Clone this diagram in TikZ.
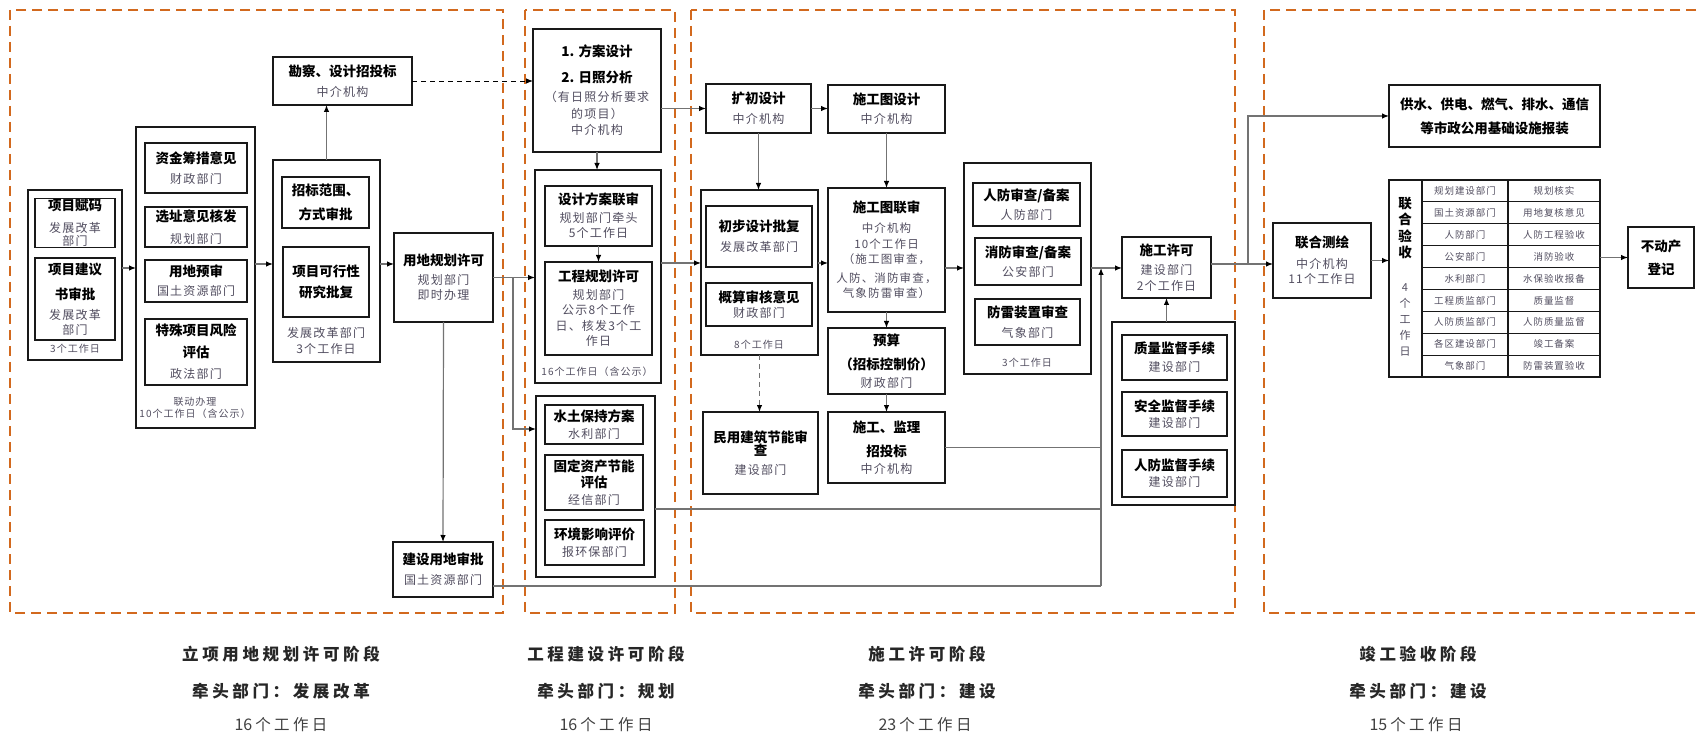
\documentclass[tikz,border=0pt]{standalone}
\usepackage{fontspec}
\setmainfont{Noto Sans CJK SC}
\newfontfamily\subfont[LetterSpace=10]{Noto Sans CJK SC}
\newfontfamily\stfont[LetterSpace=22]{Noto Sans CJK SC}
\usetikzlibrary{arrows.meta}
\definecolor{orng}{RGB}{210,105,30}
\definecolor{subc}{RGB}{82,78,96}
\definecolor{lnc}{RGB}{115,115,115}
\newcommand\tl[1]{{\normalfont\bfseries\color{black}\fontsize{13.5}{16}\selectfont #1}}
\newcommand\dg[1]{{\normalfont\fontsize{16}{20}\selectfont #1\hspace{3pt}}}
\newcommand\bx[7][]{\node[box,minimum width={#5-#3},minimum height={#6-#4},#1] (#2) at ({(#3+#5)/2},{(#4+#6)/2}) {#7};}
\tikzset{
  box/.style={draw=black!90, line width=1.1pt, inner sep=1pt, outer sep=0pt, align=center, text=subc, font=\subfont\fontsize{12}{17}\selectfont},
  note/.style={font=\subfont\fontsize{10}{12}\selectfont, text=subc, inner sep=0pt, align=center},
  stage/.style={draw=orng, line width=2.4pt, dash pattern=on 10pt off 6pt},
  conn/.style={draw=lnc, line width=1.2pt},
  arr/.style={conn, -{Latex[length=7pt,width=5.5pt,color=black]}},
  stlab/.style={font=\stfont\bfseries\fontsize{16.5}{20}\selectfont, inner sep=0pt, text=black!85},
  stday/.style={font=\stfont\fontsize{15.5}{20}\selectfont, inner sep=0pt, text=black!75},
  cell/.style={font=\subfont\fontsize{9.5}{11}\selectfont, text=subc, inner sep=0pt}
}
\begin{document}
\begin{tikzpicture}[x=1pt,y=-1pt]
\fill[white] (0,0) rectangle (1701,735);
\useasboundingbox (0,0) rectangle (1701,735);
% stage frames
\draw[stage] (10,10) rectangle (503,613);
\draw[stage] (525,10) rectangle (675,613);
\draw[stage] (691,10) rectangle (1235,613);
\draw[stage] (1712,10) -- (1264,10) -- (1264,613) -- (1712,613);
% helper levels
\coordinate (y82) at (0,82);
\coordinate (y263) at (0,263);
\coordinate (y264) at (0,264);
\coordinate (y268) at (0,268);
\coordinate (y429) at (0,429);
\coordinate (y509) at (0,509);
\coordinate (dj) at (513,278);
\coordinate (vx) at (1101,586);
\coordinate (bj) at (1248,264);
% ---------- stage 1
\bx{A}{28}{190}{122}{360}{}
\bx{a1}{35}{199}{115}{247}{\tl{项目赋码}\\[5pt]发展改革\\[-4pt]部门}
\bx{a2}{35}{258}{115}{340}{\tl{项目建议}\\[8pt]\tl{书审批}\\[3pt]发展改革\\[-2pt]部门}
\node[note] (an) at (75,349) {3个工作日};
\bx{B}{136}{127}{255}{428}{}
\bx{b1}{145}{143}{247}{193}{\tl{资金筹措意见}\\[3pt]财政部门}
\bx{b2}{145}{207}{247}{247}{\tl{选址意见核发}\\[5pt]规划部门}
\bx{b3}{145}{260}{247}{302}{\tl{用地预审}\\[2pt]国土资源部门}
\bx{b4}{145}{319}{247}{385}{\tl{特殊项目风险}\\[5pt]\tl{评估}\\[4pt]政法部门}
\node[note] (bn) at (195,408) {联动办理\\10个工作日（含公示）};
\bx{C}{273}{160}{380}{362}{}
\bx{c1}{282}{177}{369}{228}{\tl{招标范围、}\\[7pt]\tl{方式审批}}
\bx{c2}{283}{247}{369}{317}{\tl{项目可行性}\\[4pt]\tl{研究批复}}
\node[note, font=\subfont\fontsize{12}{16}\selectfont] (cn) at (326,341) {发展改革部门\\3个工作日};
\bx{kc}{273}{57}{412}{105}{\tl{勘察、设计招投标}\\[3pt]中介机构}
\bx{D}{394}{233}{493}{322}{\tl{用地规划许可}\\[2pt]规划部门\\[-2pt]即时办理}
\bx{D2}{393}{542}{493}{597}{\tl{建设用地审批}\\[3pt]国土资源部门}
% ---------- stage 2
\bx{F}{533}{29}{661}{152}{\tl{1. 方案设计}\\[9pt]\tl{2. 日照分析}\\[2pt]（有日照分析要求\\[0pt]的项目）\\[-1pt]中介机构}
\bx{E}{535}{170}{661}{383}{}
\bx{e1}{545}{186}{652}{246}{\tl{设计方案联审}\\[1pt]规划部门牵头\\[-2pt]5个工作日}
\bx{e2}{545}{262}{652}{355}{\tl{工程规划许可}\\[1pt]规划部门\\[-2pt]公示8个工作\\[-1pt]日、核发3个工\\[-2pt]作日}
\node[note] (en) at (597,372) {16个工作日（含公示）};
\bx{G}{536}{396}{655}{577}{}
\bx{g1}{545}{405}{643}{444}{\tl{水土保持方案}\\[0pt]水利部门}
\bx{g2}{545}{455}{643}{510}{\tl{固定资产节能}\\[-1pt]\tl{评估}\\[0pt]经信部门}
\bx{g3}{545}{520}{644}{565}{\tl{环境影响评价}\\[0pt]报环保部门}
% ---------- stage 3
\bx{K}{706}{84}{811}{133}{\tl{扩初设计}\\[3pt]中介机构}
\bx{L}{828}{85}{945}{133}{\tl{施工图设计}\\[2pt]中介机构}
\bx{H}{701}{190}{818}{355}{}
\bx{h1}{706}{206}{812}{267}{\tl{初步设计批复}\\[3pt]发展改革部门}
\bx{h2}{706}{283}{812}{326}{\tl{概算审核意见}\\[-2pt]财政部门}
\node[note] (hn) at (759,345) {8个工作日};
\bx{M}{703}{412}{818}{494}{\tl{民用建筑节能审}\\[-4pt]\tl{查}\\[2pt]建设部门}
\bx[font=\subfont\fontsize{11.5}{16}\selectfont]{N}{828}{188}{945}{312}{\tl{施工图联审}\\[4pt]中介机构\\[0pt]10个工作日\\[-1pt]（施工图审查，\\[3pt]人防、消防审查，\\[-1pt]气象防雷审查）}
\bx{P}{828}{328}{945}{394}{\tl{预算}\\[7pt]\tl{（招标控制价）}\\[1pt]财政部门}
\bx{Q}{828}{412}{945}{483}{\tl{施工、监理}\\[7pt]\tl{招投标}\\[0pt]中介机构}
\bx{I}{964}{163}{1091}{374}{}
\bx{i1}{973}{183}{1080}{226}{\tl{人防审查/备案}\\[2pt]人防部门}
\bx{i2}{975}{238}{1081}{285}{\tl{消防审查/备案}\\[2pt]公安部门}
\bx{i3}{975}{299}{1080}{345}{\tl{防雷装置审查}\\[3pt]气象部门}
\node[note] (in) at (1027,363) {3个工作日};
\bx{S}{1122}{237}{1211}{298}{\tl{施工许可}\\[2pt]建设部门\\[-1pt]2个工作日}
\bx{J}{1112}{322}{1235}{505}{}
\bx{j1}{1122}{335}{1227}{380}{\tl{质量监督手续}\\[1pt]建设部门}
\bx{j2}{1122}{392}{1227}{436}{\tl{安全监督手续}\\[-1pt]建设部门}
\bx{j3}{1122}{450}{1227}{497}{\tl{人防监督手续}\\[-1pt]建设部门}
% ---------- stage 4
\bx{W}{1389}{85}{1600}{147}{\tl{供水、供电、燃气、排水、通信}\\[7pt]\tl{等市政公用基础设施报装}}
\bx{R}{1273}{223}{1371}{298}{\tl{联合测绘}\\[4pt]中介机构\\[-2pt]11个工作日}
\bx{T}{1628}{227}{1694}{288}{\tl{不动产}\\[6pt]\tl{登记}}
\bx{tab}{1389}{180}{1600}{377}{}
\draw[line width=1.1pt, black!90] (1422,180) -- (1422,377) (1508,180) -- (1508,377);
\foreach \k in {1,...,8} \draw[line width=1.1pt, black!90] (1422,{180+21.9*\k}) -- (1600,{180+21.9*\k});
\node[align=center, inner sep=0pt, font=\bfseries\fontsize{13.5}{16.5}\selectfont] (tv1) at (1405,228) {联\\合\\验\\收};
\node[align=center, inner sep=0pt, text=subc, font=\fontsize{11}{16}\selectfont] (tv2) at (1405,320) {4\\个\\工\\作\\日};
\foreach \a/\b [count=\i] in {规划建设部门/规划核实, 国土资源部门/用地复核意见, 人防部门/人防工程验收, 公安部门/消防验收, 水利部门/水保验收报备, 工程质监部门/质量监督, 人防质监部门/人防质量监督, 各区建设部门/竣工备案, 气象部门/防雷装置验收}{
  \node[cell] (ra\i) at (1465,{180+21.9*(\i-0.5)}) {\a};
  \node[cell] (rb\i) at (1554,{180+21.9*(\i-0.5)}) {\b};
}
% ---------- connectors
\draw[arr] (A.east |- y268) -- (B.west |- y268);
\draw[arr] (B.east |- y264) -- (C.west |- y264);
\draw[arr] (C.north) -- (C.north |- kc.south);
\draw[arr] (C.east |- y264) -- (D.west |- y264);
\draw[draw=black, line width=0.9pt, dash pattern=on 5pt off 4pt, -{Latex[length=7pt,width=5.5pt]}] (kc.east) -- (kc.east -| F.west);
\draw[arr] (D.east) -- (D.east -| E.west);
\draw[arr] (dj) |- (G.west |- y429);
\draw[arr] (D.south) -- (D2.north);
\draw[conn] (D2.east |- vx) -- (vx);
\draw[arr] (vx) -- (vx |- y268);
\draw[arr] (F.south) -- (F.south |- E.north);
\draw[arr] (e1.south) -- (e1.south |- e2.north);
\draw[arr] (F.east |- K.west) -- (K.west);
\draw[arr] (E.east |- y263) -- (H.west |- y263);
\draw[conn] (G.east |- y509) -- (vx |- y509);
\draw[arr] (K.east) -- (K.east -| L.west);
\draw[arr] (K.south) -- (K.south |- H.north);
\draw[conn, dash pattern=on 5pt off 4pt, -{Latex[length=7pt,width=5.5pt,color=black]}] (H.south) -- (H.south |- M.north);
\draw[arr] (H.east |- y263) -- (N.west |- y263);
\draw[arr] (L.south) -- (N.north);
\draw[arr] (N.south) -- (P.north);
\draw[arr] (P.south) -- (Q.north);
\draw[arr] (N.east |- y268) -- (I.west |- y268);
\draw[arr] (I.east |- y268) -- (S.west |- y268);
\draw[conn] (Q.east) -- (Q.east -| vx);
\draw[arr] (S.south |- J.north) -- (S.south);
\draw[arr] (S.east |- y264) -- (R.west |- y264);
\draw[arr] (bj) |- (W.west);
\draw[arr] (R.east) -- (R.east -| tab.west);
\draw[arr] (T.west -| tab.east) -- (T.west);
% ---------- stage labels
\node[stlab] (s1a) at (281,654) {立项用地规划许可阶段};
\node[stlab] (s1b) at (281,691) {牵头部门：发展改革};
\node[stday] (s1c) at (281,725) {\dg{16}个工作日};
\node[stlab] (s2a) at (606,654) {工程建设许可阶段};
\node[stlab] (s2b) at (606,691) {牵头部门：规划};
\node[stday] (s2c) at (606,725) {\dg{16}个工作日};
\node[stlab] (s3a) at (927,654) {施工许可阶段};
\node[stlab] (s3b) at (927,691) {牵头部门：建设};
\node[stday] (s3c) at (925,725) {\dg{23}个工作日};
\node[stlab] (s4a) at (1418,654) {竣工验收阶段};
\node[stlab] (s4b) at (1418,691) {牵头部门：建设};
\node[stday] (s4c) at (1416,725) {\dg{15}个工作日};
\end{tikzpicture}
\end{document}
